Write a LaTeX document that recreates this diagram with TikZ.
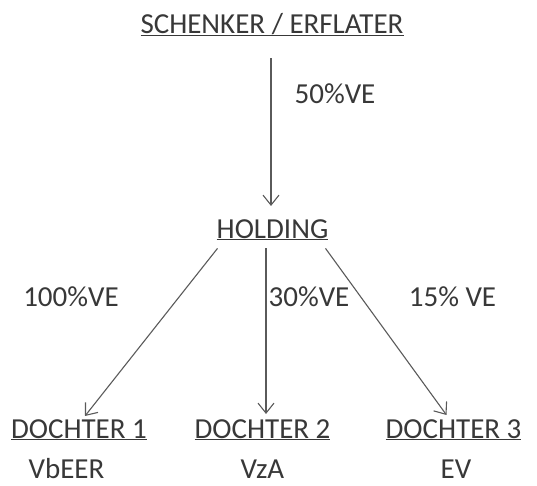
\documentclass[tikz,border=0pt]{standalone}
\usepackage{fontspec}
\setmainfont{Carlito}
\usetikzlibrary{arrows.meta,calc}
\definecolor{txt}{HTML}{383838}
\definecolor{ln}{HTML}{5A5A5A}
\begin{document}
\begin{tikzpicture}[x=1pt,y=1pt,
  lbl/.style={text=txt,inner sep=0pt,anchor=base,font=\fontsize{29}{33}\selectfont},
  arr/.style={draw=ln,line width=1.1pt,-{Straight Barb[length=10pt,width=16pt,line width=1.1pt]}}]
\useasboundingbox (0,0) rectangle (537,-485);
\node[lbl] (sch) at (272,-33) {\underline{SCHENKER / ERFLATER}};
\node[lbl] (p50) at (335,-103) {50\%VE};
\node[lbl] (hold) at (272.5,-238) {\underline{HOLDING}};
\node[lbl] (p100) at (71,-306) {100\%VE};
\node[lbl] (p30) at (309,-306) {30\%VE};
\node[lbl] (p15) at (452.5,-306) {15\% VE};
\node[lbl] (d1) at (79,-438) {\underline{DOCHTER 1}};
\node[lbl] (d2) at (262.5,-438) {\underline{DOCHTER 2}};
\node[lbl] (d3) at (453.5,-438) {\underline{DOCHTER 3}};
\node[lbl] (e1) at (66.5,-478) {VbEER};
\node[lbl] (e2) at (262.5,-478) {VzA};
\node[lbl] (e3) at (456,-478) {EV};
\draw[arr] ($(sch.south)+(-1,-22)$) -- ($(hold.north)+(-1.5,13)$);
\draw[arr] ($(hold.south west)+(1,-8)$) -- ($(d1.north)+(6,3)$);
\draw[arr] ($(hold.south)+(-6.5,-8)$) -- ($(d2.north)+(3.5,5)$);
\draw[arr] ($(hold.south east)+(-3,-8)$) -- ($(d3.north)+(-7,4)$);
\end{tikzpicture}
\end{document}
